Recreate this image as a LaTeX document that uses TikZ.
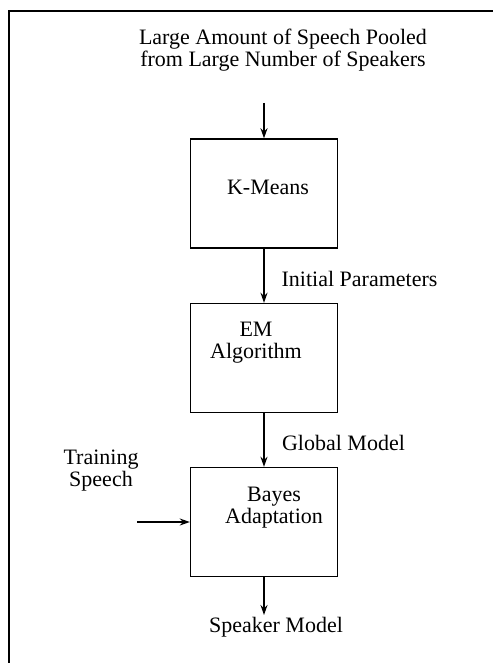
\documentclass[tikz,border=0pt]{standalone}
\usepackage{fontspec}
\setmainfont{Liberation Serif}
\usetikzlibrary{arrows.meta}
\begin{document}
\begin{tikzpicture}[x=1pt,y=-1pt,
  blk/.style={draw,line width=1.4pt,minimum width=147pt,minimum height=109pt,inner sep=0pt},
  txt/.style={font=\fontsize{22}{22}\selectfont,align=center,inner sep=0pt,anchor=base},
  flow/.style={line width=1.4pt,-{Stealth[length=10pt,width=7pt]}}]
\useasboundingbox (0,0) rectangle (493,663);
\draw[line width=1.8pt] (9,663) -- (9,11) -- (493,11);
\node[blk] (km) at (264,193.5) {};
\node[blk] (em) at (264,358) {};
\node[blk] (ba) at (264,522) {};
\coordinate (in) at (264,103);
\coordinate (ts) at (137,522);
\coordinate (out) at (264,615);
\node[txt] (title) at (283,67) {Large Amount of Speech Pooled\\from Large Number of Speakers};
\node[txt] (kmt) at (268,194) {K-Means};
\node[txt] (ip) at (359.5,286) {Initial Parameters};
\node[txt] (emt) at (256,358) {EM\\Algorithm};
\node[txt] (gm) at (343.5,450) {Global Model};
\node[txt] (tsp) at (101,486) {Training\\Speech};
\node[txt] (bat) at (274,523) {Bayes\\Adaptation};
\node[txt] (sm) at (276,632) {Speaker Model};
\draw[flow] (in) -- (km.north);
\draw[flow] (km.south) -- (em.north);
\draw[flow] (em.south) -- (ba.north);
\draw[flow] (ts) -- (ba.west);
\draw[flow] (ba.south) -- (out);
\end{tikzpicture}
\end{document}
